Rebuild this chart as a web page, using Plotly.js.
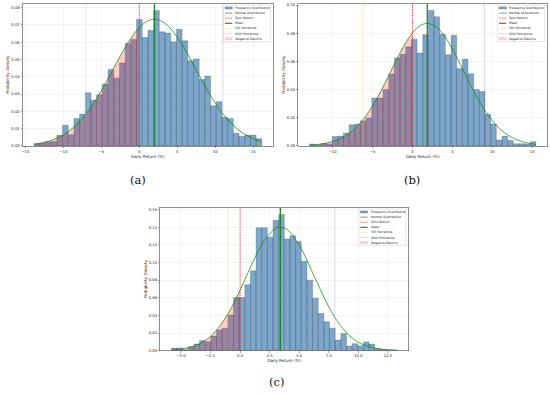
<!DOCTYPE html>
<html><head><meta charset="utf-8">
<script src="https://cdn.plot.ly/plotly-3.0.1.min.js"></script>
<style>html,body{margin:0;padding:0;background:#fff}#chart{width:550px;height:395px}</style>
</head><body><div id="chart"></div>
<script>
// ---------------- data ----------------
const panelLabels = ['(a)', '(b)', '(c)'];
const legendNames = ['Frequency Distribution', 'Normal Distribution', 'Zero Return', 'Mean',
                     '5th Percentile', '95th Percentile', 'Negative Returns'];
const xTitle = 'Daily Return (%)';
const yTitle = 'Probability Density';

// histogram bins: first bin left edge and bin width per panel
const binStart = [-13.86, -12.9, -5.81];
const binWidth = [0.75, 0.709, 0.4775];

const densityA = [0.0012, 0.0015, 0.0023, 0.0025, 0.0061, 0.0119, 0.0065, 0.0159, 0.0184, 0.0308,
                  0.0264, 0.0296, 0.0358, 0.0442, 0.0392, 0.0480, 0.0593, 0.0616, 0.0732, 0.0627,
                  0.0669, 0.0784, 0.0660, 0.0654, 0.0602, 0.0675, 0.0608, 0.0493, 0.0503, 0.0384,
                  0.0405, 0.0233, 0.0256, 0.0166, 0.0159, 0.0073, 0.0054, 0.0063, 0.0063, 0.0042];
const densityB = [0.0014, 0.0005, 0.0018, 0.0014, 0.0066, 0.0070, 0.0092, 0.0150, 0.0155, 0.0178,
                  0.0198, 0.0340, 0.0340, 0.0400, 0.0510, 0.0625, 0.0650, 0.0704, 0.0758, 0.0660,
                  0.0790, 0.0962, 0.0918, 0.0793, 0.0648, 0.0786, 0.0550, 0.0617, 0.0512, 0.0400,
                  0.0387, 0.0225, 0.0155, 0.0042, 0.0070, 0.0038, 0.0016, 0.0016, 0.0014, 0.0030];
const densityC = [0.0030, 0.0030, 0.0010, 0.0045, 0.0075, 0.0115, 0.0102, 0.0165, 0.0235, 0.0255,
                  0.0405, 0.0602, 0.0602, 0.0748, 0.0906, 0.1395, 0.1395, 0.1286, 0.1480, 0.1545,
                  0.1267, 0.1305, 0.1240, 0.1015, 0.0800, 0.0595, 0.0420, 0.0327, 0.0255, 0.0120,
                  0.0195, 0.0053, 0.0079, 0.0056, 0.0098, 0.0075, 0.0023, 0.0012, 0.0010, 0.0008];

// fitted normal curve
const curveXA = [-13.86, -13, -12, -11, -10, -9, -8, -7, -6, -5, -4, -3, -2, -1, 0, 1, 2, 3, 4, 5,
                 6, 7, 8, 9, 10, 11, 12, 13, 14, 15, 16, 16.14];
const curveYA = [0.00105, 0.00164, 0.00267, 0.00422, 0.00643, 0.00949, 0.01354, 0.01866, 0.02486,
                 0.03202, 0.0399, 0.04805, 0.05594, 0.06296, 0.06851, 0.07207, 0.0733, 0.07207,
                 0.06851, 0.06296, 0.05594, 0.04805, 0.0399, 0.03202, 0.02486, 0.01866, 0.01354,
                 0.00949, 0.00643, 0.00422, 0.00267, 0.0025];
const curveXB = [-12.9, -12, -11, -10, -9, -8, -7, -6, -5, -4, -3, -2, -1, 0, 1, 1.85, 2, 3, 4, 5,
                 6, 7, 8, 9, 10, 11, 12, 13, 14, 15, 15.46];
const curveYB = [0.00049, 0.0009, 0.0017, 0.00307, 0.00526, 0.00862, 0.01347, 0.02005, 0.02845,
                 0.03852, 0.04971, 0.06118, 0.07177, 0.08027, 0.08561, 0.0871, 0.08705, 0.0844,
                 0.07802, 0.06876, 0.05777, 0.04629, 0.03535, 0.02575, 0.01788, 0.01184, 0.00747,
                 0.0045, 0.00258, 0.00141, 0.00105];
const curveXC = [-5.81, -5, -4, -3, -2, -1, 0, 1, 2, 3, 3.4, 4, 5, 6, 7, 8, 9, 10, 11, 12, 13, 13.29];
const curveYC = [0.00074, 0.00179, 0.00476, 0.01116, 0.02315, 0.0424, 0.06866, 0.09823, 0.1242,
                 0.1388, 0.1402, 0.1371, 0.1197, 0.09234, 0.06296, 0.03794, 0.0202, 0.00951,
                 0.00396, 0.00145, 0.00047, 0.00035];

const zeroReturn = 0;
const meanReturn = [2.0, 1.85, 3.4];
const pct5 = [-7.07, -6.2, -1.04];
const pct95 = [11.0, 9.0, 8.0];

const xTickStep = [5, 5, 2.5];
const yTickStep = [0.01, 0.02, 0.02];
const xTickFmt = ['d', 'd', '.1f'];

// ---------------- styles / geometry ----------------
const W = 550, H = 395;
const PX = v => v / W, PY = v => 1 - v / H;
const geo = [
  {l: 21.7, r: 272.7, t: 2.7, b: 146, xr: [-15.36, 17.64], yr: [0, 0.0823], lab: [137, 180]},
  {l: 297.7, r: 547.3, t: 2.7, b: 146, xr: [-14.32, 16.88], yr: [0, 0.101], lab: [412, 180]},
  {l: 159.3, r: 408.3, t: 208.3, b: 352.3, xr: [-6.77, 14.24], yr: [0, 0.1622], lab: [276, 384]}
];
const densities = [densityA, densityB, densityC];
const curveX = [curveXA, curveXB, curveXC];
const curveY = [curveYA, curveYB, curveYC];

const C = {
  bar: 'rgba(70,130,180,0.7)', barEdge: 'rgba(20,20,40,0.45)',
  curve: 'rgba(0,140,0,0.72)', mean: 'rgb(30,130,40)',
  zero: 'rgba(235,0,0,0.8)', p5: 'rgba(255,190,40,0.4)', p95: 'rgba(110,70,120,0.25)',
  neg: 'rgba(255,0,0,0.2)'
};
const ZDASH = '1.6px,1px';
const FONT = 'DejaVu Sans, Arial, sans-serif';

const traces = [];
const shapes = [];
const annotations = [];
const layout = {
  width: W, height: H, margin: {l: 0, r: 0, t: 0, b: 0},
  paper_bgcolor: '#fff', plot_bgcolor: '#fff', showlegend: false,
  font: {family: FONT, color: '#222'}
};

for (let p = 0; p < 3; p++) {
  const g = geo[p];
  const sx = p === 0 ? '' : String(p + 1);
  const xa = 'x' + sx, ya = 'y' + sx;

  traces.push({
    type: 'bar', xaxis: xa, yaxis: ya,
    x0: binStart[p] + binWidth[p] / 2, dx: binWidth[p], width: binWidth[p],
    y: densities[p],
    marker: {color: C.bar, line: {color: C.barEdge, width: 0.45}},
    hoverinfo: 'skip'
  });
  const nx = [], ny = [];
  curveX[p].forEach((v, i) => { if (v <= zeroReturn) { nx.push(v); ny.push(curveY[p][i]); } });
  traces.push({
    type: 'scatter', mode: 'lines', xaxis: xa, yaxis: ya, x: nx, y: ny,
    fill: 'tozeroy', fillcolor: C.neg, line: {width: 0, shape: 'spline'}, hoverinfo: 'skip'
  });
  traces.push({
    type: 'scatter', mode: 'lines', xaxis: xa, yaxis: ya, x: curveX[p], y: curveY[p],
    line: {color: C.curve, width: 1, shape: 'spline'}, hoverinfo: 'skip'
  });

  const axBase = {
    showline: true, mirror: true, linecolor: '#444', linewidth: 0.6,
    showgrid: true, gridcolor: 'rgba(0,0,0,0.09)', gridwidth: 0.5, zeroline: false,
    ticks: 'outside', ticklen: 1.5, tickwidth: 0.5, tickcolor: '#444',
    tickfont: {size: 3.8, family: FONT, color: '#222'}, automargin: true
  };
  layout['xaxis' + sx] = Object.assign({}, axBase, {
    domain: [PX(g.l), PX(g.r)], anchor: ya, range: g.xr,
    tick0: 0, dtick: xTickStep[p], tickformat: xTickFmt[p],
    title: {text: xTitle, font: {size: 4.1, family: FONT, color: '#222'}, standoff: 1}
  });
  layout['yaxis' + sx] = Object.assign({}, axBase, {
    domain: [PY(g.b), PY(g.t)], anchor: xa, range: g.yr,
    tick0: 0, dtick: yTickStep[p], tickformat: '.2f',
    title: {text: yTitle, font: {size: 4.1, family: FONT, color: '#222'}, standoff: 1}
  });

  // vertical reference lines
  const vline = (x, color, width, dash) => shapes.push({
    type: 'line', xref: xa, yref: ya + ' domain', x0: x, x1: x, y0: 0, y1: 1,
    line: {color: color, width: width, dash: dash}
  });
  vline(pct5[p], C.p5, 0.8, 'solid');
  vline(pct95[p], C.p95, 0.9, 'solid');
  vline(zeroReturn, C.zero, 0.8, ZDASH);
  vline(meanReturn[p], C.mean, 1.3, 'solid');

  // legend (drawn compactly, matplotlib style)
  const bw = 47, bh = 36.7;
  const bx1 = g.r - 2.8, bx0 = bx1 - bw, by0 = g.t + 1.4, by1 = by0 + bh;
  shapes.push({type: 'rect', xref: 'paper', yref: 'paper', x0: PX(bx0), x1: PX(bx1), y0: PY(by1), y1: PY(by0),
               fillcolor: 'rgba(255,255,255,0.85)', line: {color: '#d0d0d0', width: 0.5}});
  legendNames.forEach((name, i) => {
    const cy = by0 + 2.9 + 5.15 * i;
    const hx0 = bx0 + 1.5, hx1 = bx0 + 8.8;
    if (i === 0 || i === 6) {
      shapes.push({type: 'rect', xref: 'paper', yref: 'paper', x0: PX(hx0), x1: PX(hx1),
                   y0: PY(cy + 1.1), y1: PY(cy - 1.1),
                   fillcolor: i === 0 ? C.bar : C.neg,
                   line: {color: i === 0 ? C.barEdge : 'rgba(255,0,0,0.2)', width: 0.4}});
    } else {
      const st = [null, [C.curve, 0.9, 'solid'], [C.zero, 0.8, ZDASH], [C.mean, 1.1, 'solid'],
                  [C.p5, 0.8, 'solid'], [C.p95, 0.8, 'solid']][i];
      shapes.push({type: 'line', xref: 'paper', yref: 'paper', x0: PX(hx0), x1: PX(hx1),
                   y0: PY(cy), y1: PY(cy), line: {color: st[0], width: st[1], dash: st[2]}});
    }
    annotations.push({xref: 'paper', yref: 'paper', x: PX(bx0 + 10.8), y: PY(cy),
                      xanchor: 'left', yanchor: 'middle', showarrow: false, text: name,
                      borderpad: 0, font: {size: 3.1, family: FONT, color: '#222'}});
  });

  annotations.push({xref: 'paper', yref: 'paper', x: PX(g.lab[0]), y: PY(g.lab[1]),
                    xanchor: 'center', yanchor: 'middle', showarrow: false, text: panelLabels[p],
                    font: {size: 11.5, family: 'DejaVu Serif, Liberation Serif, serif', color: '#111'}});
}
layout.shapes = shapes;
layout.annotations = annotations;
layout.bargap = 0;

Plotly.newPlot('chart', traces, layout, {staticPlot: true, displayModeBar: false});
</script>
</body></html>
